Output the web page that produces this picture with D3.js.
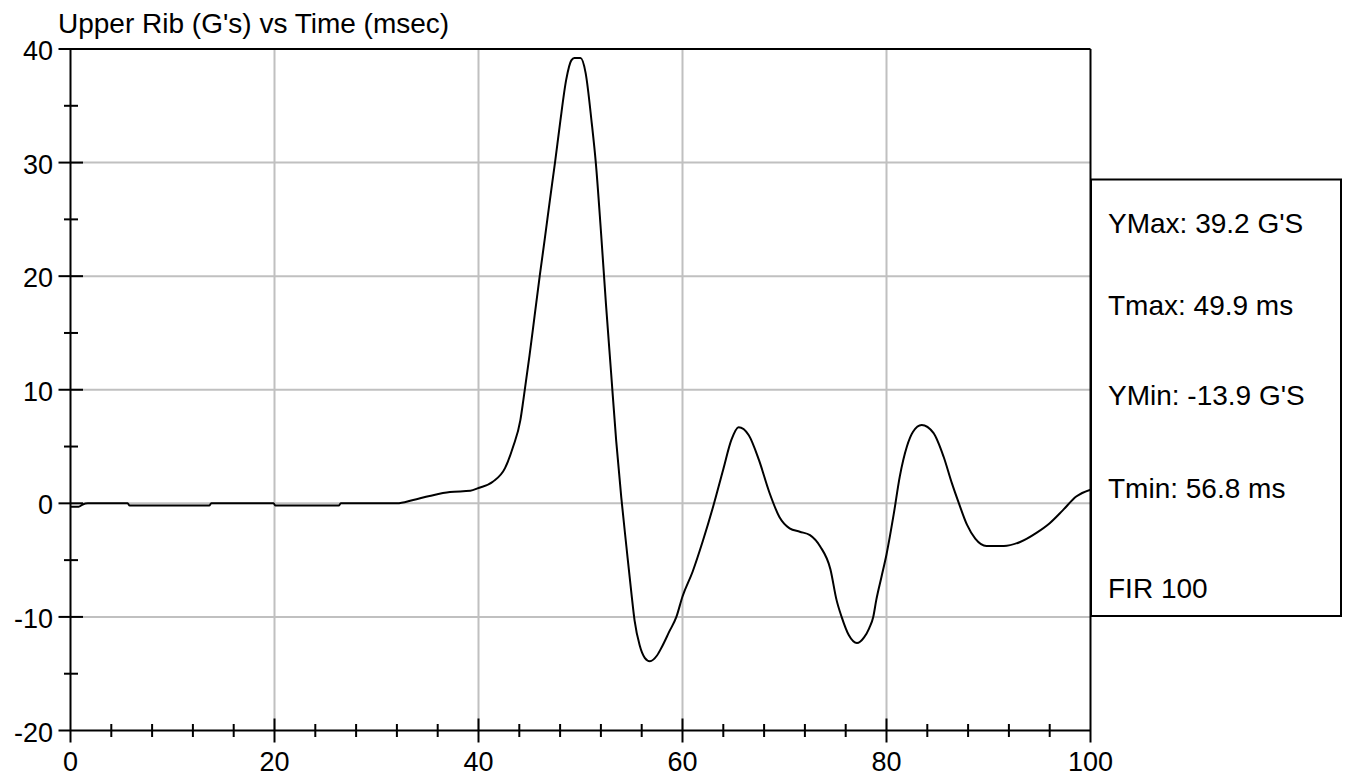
<!DOCTYPE html>
<html>
<head>
<meta charset="utf-8">
<script src="https://cdn.jsdelivr.net/npm/d3@7"></script>
<style>
  body { margin: 0; background: #fff; }
  svg text { font-family: "Liberation Sans", Arial, sans-serif; fill: #000; }
</style>
</head>
<body>
<div id="chart"></div>
<script>
// Sizing for the page and the plot box
const width = 1349;
const height = 779;
const plot = { left: 70.5, right: 1090.5, top: 49, bottom: 730.5 };

// Data
const timeMs = [0, 0.8, 1.2, 1.7, 5.6, 5.8, 13.6, 13.8, 19.9, 20.1, 26.3, 26.5, 32, 33.6, 35.2, 37.2, 39.2, 40,
  41.4, 42.6, 43.4, 44.1, 44.4, 45, 45.5, 46, 46.5, 47, 47.5, 48, 48.6, 49.1, 49.4, 50, 50.5, 51.1, 51.5, 52,
  52.5, 53, 53.5, 54, 54.5, 55, 55.3, 55.8, 56.3, 56.8, 57.5, 58, 58.7, 59.4, 60, 61, 62, 63, 64, 64.8, 65.5,
  66.5, 67.5, 68.5, 69.5, 70.5, 71.5, 72.5, 73.5, 74.5, 75.1, 75.6, 76.3, 77.1, 77.8, 78.3, 78.7, 79, 79.5, 80,
  80.7, 81.3, 82, 82.6, 83.45, 84.6, 85.6, 86.4, 87.1, 87.9, 88.7, 89.8, 91.5, 93.1, 94.7, 96, 97.3, 98.6, 100];
const upperRibG = [-0.3, -0.3, -0.1, 0, 0, -0.2, -0.2, 0, 0, -0.2, -0.2, 0, 0, 0.3, 0.65, 1.0, 1.1, 1.35,
  1.9, 3.1, 5, 7.3, 9.1, 13, 16.5, 20, 23.3, 26.7, 30, 33.5, 37.3, 39, 39.2, 39.2, 37.9, 33.5, 30, 24,
  17.5, 11.5, 5.5, 0.5, -3.8, -8, -10.3, -12.5, -13.6, -13.9, -13.4, -12.6, -11.3, -10, -8.2, -6, -3.3, -0.3, 3, 5.6, 6.7,
  6, 3.8, 1, -1.2, -2.2, -2.5, -2.8, -3.8, -5.8, -8.5, -10, -11.6, -12.3, -11.8, -11, -10, -8.5, -6.5, -4.5,
  -1, 2.35, 5, 6.3, 6.9, 6.2, 4.1, 1.8, 0, -1.9, -3.1, -3.75, -3.75, -3.4, -2.6, -1.75, -0.6, 0.6, 1.2];

const xTicks = [0, 20, 40, 60, 80, 100];
const yTicks = [-20, -10, 0, 10, 20, 30, 40];
const xMinorTicks = d3.range(0, 101, 4);
const yMinorTicks = d3.range(-15, 40, 10);

const chartTitle = "Upper Rib (G's) vs Time (msec)";
const statsLines = ["YMax: 39.2 G'S", "Tmax: 49.9 ms", "YMin: -13.9 G'S", "Tmin: 56.8 ms", "FIR 100"];
const statsBaselines = [233, 315, 405, 498, 598];

const svg = d3.select("#chart")
    .append("svg")
    .attr("width", width)
    .attr("height", height);

const x = d3.scaleLinear().domain([0, 100]).range([plot.left, plot.right]);
const y = d3.scaleLinear().domain([-20, 40]).range([plot.bottom, plot.top]);

// Grey grid lines first, everything else goes over them
svg.append("g")
    .selectAll("line")
    .data(xTicks.filter(d => d > 0 && d < 100))
    .join("line")
    .attr("x1", d => x(d)).attr("x2", d => x(d))
    .attr("y1", plot.top).attr("y2", plot.bottom)
    .attr("stroke", "#c0c0c0").attr("stroke-width", 2);

svg.append("g")
    .selectAll("line")
    .data(yTicks.filter(d => d > -20 && d < 40))
    .join("line")
    .attr("x1", plot.left).attr("x2", plot.right)
    .attr("y1", d => y(d)).attr("y2", d => y(d))
    .attr("stroke", "#c0c0c0").attr("stroke-width", 2);

// The trace
const line = d3.line()
    .x((d, i) => x(timeMs[i]))
    .y(d => y(d))
    .curve(d3.curveMonotoneX);

svg.append("path")
    .datum(upperRibG)
    .attr("fill", "none")
    .attr("stroke", "#000")
    .attr("stroke-width", 2)
    .attr("d", line);

// Frame: axes on left/bottom and the top/right border
const frame = svg.append("g").attr("stroke", "#000").attr("stroke-width", 2);
frame.append("line").attr("x1", plot.left).attr("x2", plot.left).attr("y1", plot.top).attr("y2", plot.bottom + 12);
frame.append("line").attr("x1", plot.left - 12).attr("x2", plot.right).attr("y1", plot.bottom).attr("y2", plot.bottom);
frame.append("line").attr("x1", plot.left - 12).attr("x2", plot.right).attr("y1", plot.top).attr("y2", plot.top);
frame.append("line").attr("x1", plot.right).attr("x2", plot.right).attr("y1", plot.top).attr("y2", plot.bottom + 12);

// Minor ticks cross the axis lines, major ones are longer
frame.selectAll(".xminor")
    .data(xMinorTicks.filter(d => d % 20 !== 0))
    .join("line")
    .attr("x1", d => x(d)).attr("x2", d => x(d))
    .attr("y1", plot.bottom - 6.5).attr("y2", plot.bottom + 6.5);
frame.selectAll(".xmajor")
    .data(xTicks.filter(d => d > 0 && d < 100))
    .join("line")
    .attr("x1", d => x(d)).attr("x2", d => x(d))
    .attr("y1", plot.bottom - 12).attr("y2", plot.bottom + 12);
frame.selectAll(".yminor")
    .data(yMinorTicks)
    .join("line")
    .attr("x1", plot.left - 6.5).attr("x2", plot.left + 7.5)
    .attr("y1", d => y(d)).attr("y2", d => y(d));
frame.selectAll(".ymajor")
    .data(yTicks.filter(d => d > -20 && d < 40))
    .join("line")
    .attr("x1", plot.left - 12).attr("x2", plot.left + 12.5)
    .attr("y1", d => y(d)).attr("y2", d => y(d));

// Tick labels
svg.append("g")
    .selectAll("text")
    .data(xTicks)
    .join("text")
    .attr("x", d => x(d))
    .attr("y", 771)
    .attr("text-anchor", "middle")
    .style("font-size", "27px")
    .text(d => d);

svg.append("g")
    .selectAll("text")
    .data(yTicks)
    .join("text")
    .attr("x", 53)
    .attr("y", d => y(d) + 11)
    .attr("text-anchor", "end")
    .style("font-size", "27px")
    .text(d => d);

// Title
svg.append("text")
    .attr("x", 58)
    .attr("y", 33)
    .style("font-size", "28px")
    .text(chartTitle);

// Stats box on the right
svg.append("rect")
    .attr("x", 1091).attr("y", 179.5)
    .attr("width", 250).attr("height", 436.5)
    .attr("fill", "#fff")
    .attr("stroke", "#000").attr("stroke-width", 2);

svg.append("g")
    .selectAll("text")
    .data(statsLines)
    .join("text")
    .attr("x", 1108)
    .attr("y", (d, i) => statsBaselines[i])
    .style("font-size", "28px")
    .text(d => d);
</script>
</body>
</html>
